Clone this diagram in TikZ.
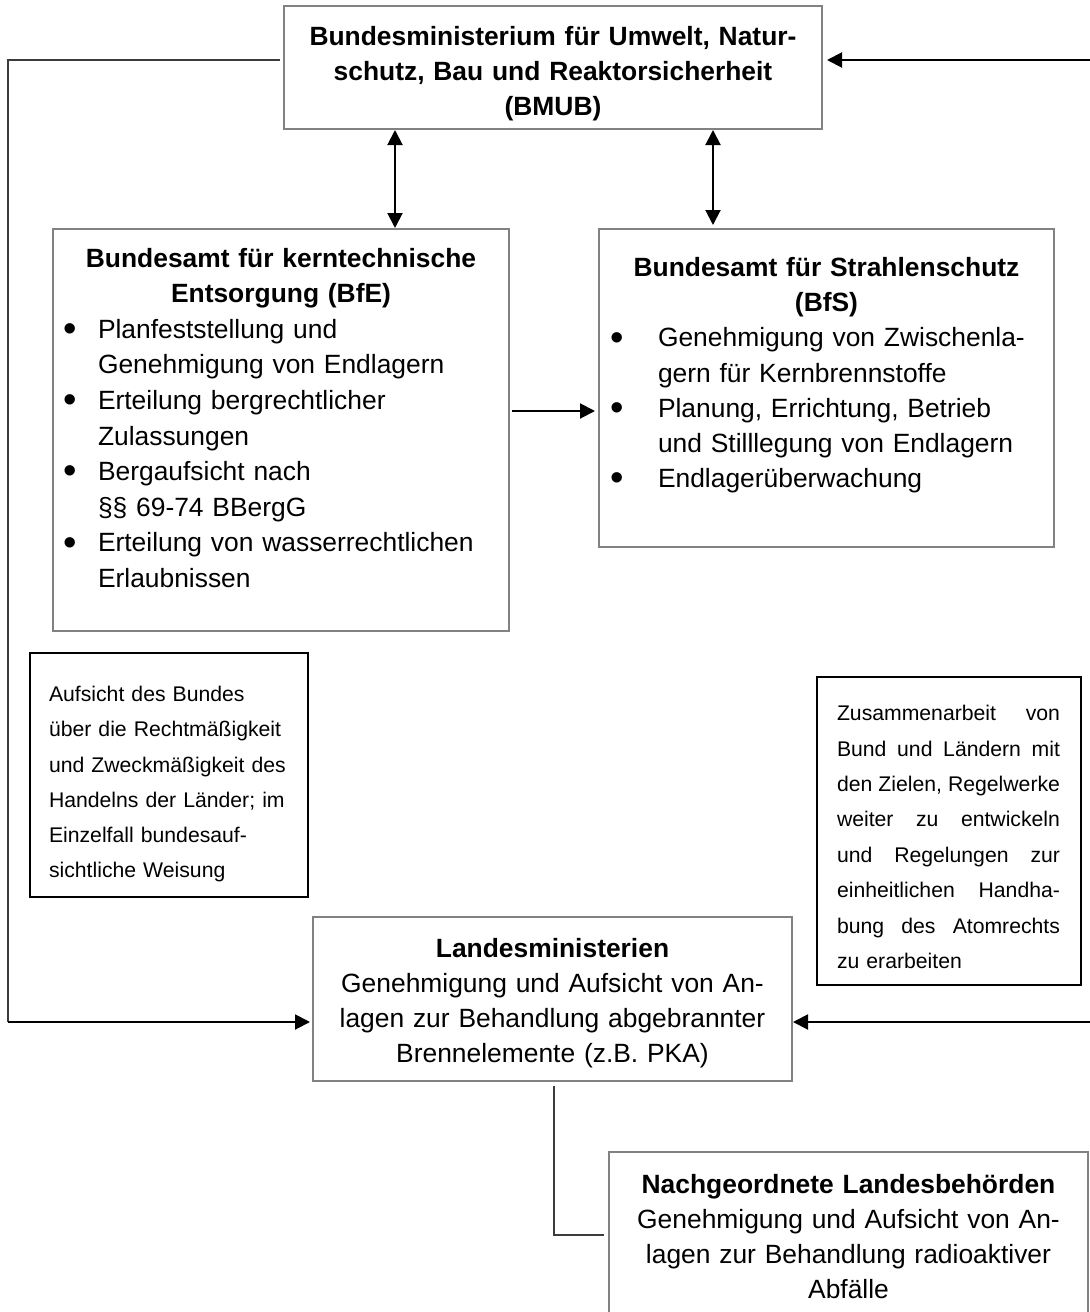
\documentclass[tikz,border=0pt]{standalone}
\usepackage{fontspec}
\setmainfont{Liberation Sans}
\usetikzlibrary{arrows.meta}
\definecolor{boxgray}{HTML}{828282}
\definecolor{linegray}{HTML}{3C3C3C}
\newcommand\mybul[1]{\makebox[#1][l]{\raisebox{-1.6pt}{\scalebox{1.45}{\textbullet}}}}
\newcommand\myind[1]{\hspace*{#1}}
\newcommand\jline[1]{\leavevmode\hbox to \linewidth{#1}}
\begin{document}
\begin{tikzpicture}[x=0.5pt,y=-0.5pt,
  box/.style={draw=boxgray,line width=0.75pt,rectangle,inner sep=0pt,outer sep=0pt},
  notebox/.style={draw=black,line width=0.6pt,rectangle,inner sep=0pt,outer sep=0pt},
  bigtxt/.style={inner sep=0pt,outer sep=0pt,font=\fontsize{13.2pt}{17.7pt}\selectfont},
  smalltxt/.style={inner sep=0pt,outer sep=0pt,font=\fontsize{10.6pt}{17.6pt}\selectfont},
  conn/.style={draw=linegray,line width=0.7pt},
  arr/.style={line width=1pt,-{Triangle[length=7.5pt,width=7.5pt]}},
  darr/.style={line width=1pt,{Triangle[length=7.5pt,width=7.5pt]}-{Triangle[length=7.5pt,width=7.5pt]}}
]
\useasboundingbox (0,0) rectangle (1089,1312);

% boxes
\node[box,minimum width=269pt,minimum height=61.5pt] (bmub) at (553,67.5) {};
\node[box,minimum width=228pt,minimum height=201pt] (bfe) at (281,430) {};
\node[box,minimum width=227.5pt,minimum height=159pt] (bfs) at (826.5,388) {};
\node[notebox,minimum width=139pt,minimum height=122pt] (noteL) at (169,775) {};
\node[notebox,minimum width=132pt,minimum height=154pt] (noteR) at (949,831) {};
\node[box,minimum width=239.5pt,minimum height=82pt] (landes) at (552.5,999) {};
\node[box,minimum width=239.5pt,minimum height=89pt] (nach) at (848.5,1241) {};

% texts
\node[bigtxt,anchor=base,text width=262pt,align=center,font=\fontsize{13.2pt}{17.5pt}\selectfont\bfseries] (tbmub) at (553,45)
  {Bundesministerium für Umwelt, Natur-\\schutz, Bau und Reaktorsicherheit\\(BMUB)};

\node[bigtxt,anchor=base,text width=224pt,align=center,font=\fontsize{13.2pt}{17.8pt}\selectfont\bfseries] (tbfe) at (281,267)
  {Bundesamt für kerntechnische\\Entsorgung (BfE)};
\node[bigtxt,anchor=base west,text width=222pt,align=left,font=\fontsize{13.2pt}{17.8pt}\selectfont] (lbfe) at (63.3,338.2)
  {\mybul{17.35pt}Planfeststellung und\\
   \myind{17.35pt}Genehmigung von Endlagern\\
   \mybul{17.35pt}Erteilung bergrechtlicher\\
   \myind{17.35pt}Zulassungen\\
   \mybul{17.35pt}Bergaufsicht nach\\
   \myind{17.35pt}§§ 69-74 BBergG\\
   \mybul{17.35pt}Erteilung von wasserrechtlichen\\
   \myind{17.35pt}Erlaubnissen};

\node[bigtxt,anchor=base,text width=224pt,align=center,font=\fontsize{13.2pt}{17.6pt}\selectfont\bfseries] (tbfs) at (826.5,276.5)
  {Bundesamt für Strahlenschutz\\(BfS)};
\node[bigtxt,anchor=base west,text width=215pt,align=left,font=\fontsize{13.2pt}{17.6pt}\selectfont] (lbfs) at (610.3,346.9)
  {\mybul{23.85pt}Genehmigung von Zwischenla-\\
   \myind{23.85pt}gern für Kernbrennstoffe\\
   \mybul{23.85pt}Planung, Errichtung, Betrieb\\
   \myind{23.85pt}und Stilllegung von Endlagern\\
   \mybul{23.85pt}Endlagerüberwachung};

\node[smalltxt,anchor=base west,text width=132pt,align=left] (tnoteL) at (49,701.7)
  {Aufsicht des Bundes\\über die Rechtmäßigkeit\\und Zweckmäßigkeit des\\Handelns der Länder; im\\Einzelfall bundesauf-\\sichtliche Weisung};

\node[smalltxt,anchor=base west,text width=111.5pt,align=left,font=\fontsize{10.6pt}{17.7pt}\selectfont] (tnoteR) at (837,720.7)
  {\jline{Zusammenarbeit\hfill von}\\
   \jline{Bund\hfill und\hfill Ländern\hfill mit}\\
   \jline{den\hfill Zielen,\hfill Regelwerke}\\
   \jline{weiter\hfill zu\hfill entwickeln}\\
   \jline{und\hfill Regelungen\hfill zur}\\
   \jline{einheitlichen\hfill Handha-}\\
   \jline{bung\hfill des\hfill Atomrechts}\\
   zu erarbeiten};

\node[bigtxt,anchor=base,text width=236pt,align=center,font=\fontsize{13.2pt}{17.65pt}\selectfont] (tlandes) at (552.5,957)
  {\textbf{Landesministerien}\\Genehmigung und Aufsicht von An-\\lagen zur Behandlung abgebrannter\\Brennelemente (z.B. PKA)};

\node[bigtxt,anchor=base,text width=236pt,align=center,font=\fontsize{13.2pt}{17.6pt}\selectfont] (tnach) at (848.5,1193)
  {\textbf{Nachgeordnete Landesbehörden}\\Genehmigung und Aufsicht von An-\\lagen zur Behandlung radioaktiver\\Abfälle};

% helper coordinates
\coordinate (lt) at (8,60);
\coordinate (lb) at (8,1022);
\coordinate (rt) at (1096,60);
\coordinate (rb) at (1096,1022);
\coordinate (a1) at (395,0);
\coordinate (a2) at (713,0);
\coordinate (h1) at (0,411);
\coordinate (v1) at (554,0);
\coordinate (c1) at (0,1235);

% connectors
\draw[conn] ([xshift=-2pt]bmub.west |- lt) -- (lt) -- (lb);
\draw[arr] (lb) -- ([xshift=-1.5pt]landes.west |- lb);
\draw[arr] (rt) -- ([xshift=2.5pt]bmub.east |- rt);
\draw[arr] (rb) -- ([xshift=0.5pt]landes.east |- rb);
\draw[darr] ([yshift=-0.5pt]bmub.south -| a1) -- ([yshift=0.5pt]bfe.north -| a1);
\draw[darr] ([yshift=-0.5pt]bmub.south -| a2) -- ([yshift=2pt]bfs.north -| a2);
\draw[arr] ([xshift=1.5pt]bfe.east |- h1) -- ([xshift=-2pt]bfs.west |- h1);
\draw[conn] ([yshift=-2.5pt]landes.south -| v1) -- (v1 |- c1) -- ([xshift=-2.5pt]nach.west |- c1);
\end{tikzpicture}
\end{document}
